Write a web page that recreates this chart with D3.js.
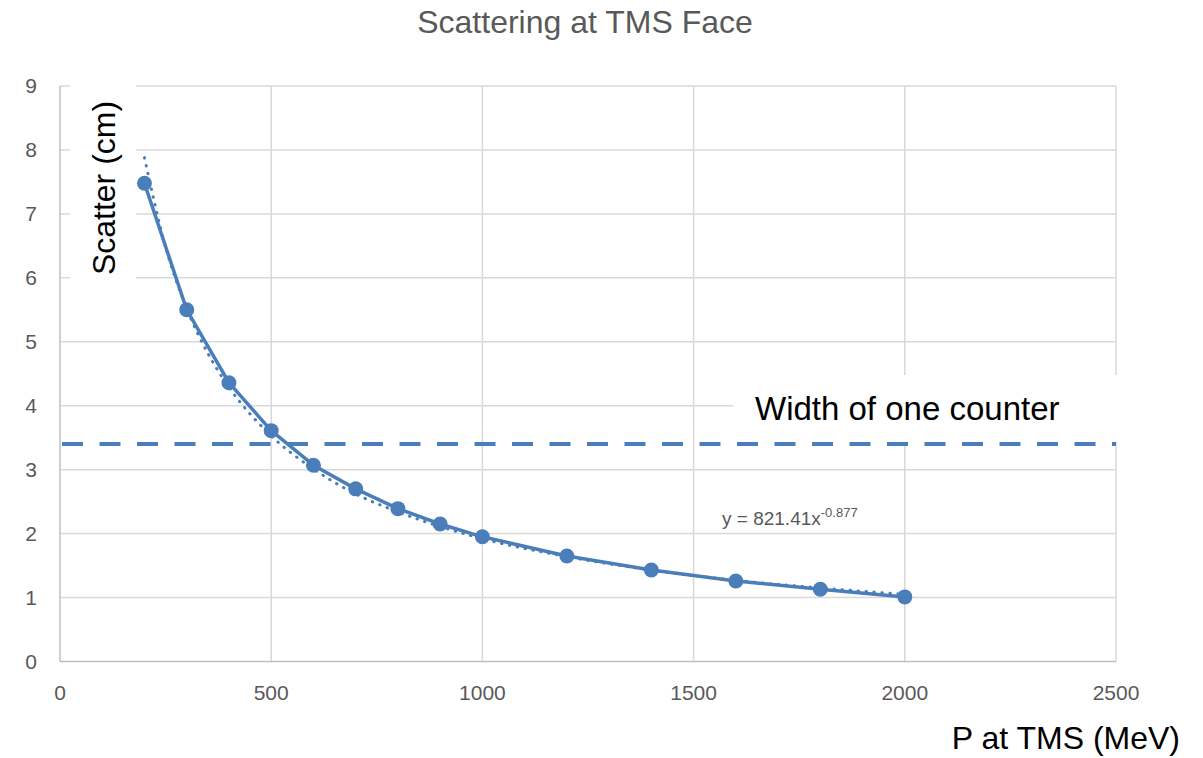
<!DOCTYPE html>
<html>
<head>
<meta charset="utf-8">
<script src="https://cdn.jsdelivr.net/npm/d3@7"></script>
<style>
  body { margin: 0; background: #fff; }
  text { font-family: "Liberation Sans", Arial, sans-serif; }
</style>
</head>
<body>
<svg id="chart" width="1203" height="758"></svg>
<script>
// measured scatter vs momentum
const momentum = [200, 300, 400, 500, 600, 700, 800, 900, 1000, 1200, 1400, 1600, 1800, 2000];
const scatter  = [7.48, 5.50, 4.36, 3.61, 3.07, 2.70, 2.39, 2.15, 1.95, 1.65, 1.43, 1.26, 1.13, 1.01];

// power trendline
const trendX = [200, 250, 300, 350, 400, 500, 600, 700, 800, 900, 1000, 1200, 1400, 1600, 1800, 2000];
const trendY = [7.88, 6.48, 5.52, 4.82, 4.29, 3.53, 3.01, 2.62, 2.34, 2.11, 1.92, 1.64, 1.43, 1.27, 1.15, 1.05];

const counterWidth = 3.4;
const xTicks = [0, 500, 1000, 1500, 2000, 2500];
const yTicks = [0, 1, 2, 3, 4, 5, 6, 7, 8, 9];

const svg = d3.select('#chart');
const margin = { top: 86, right: 87, bottom: 96.5, left: 60 };
const width = +svg.attr('width');
const height = +svg.attr('height');
const innerWidth = width - margin.left - margin.right;
const innerHeight = height - margin.top - margin.bottom;

const blue = '#4a7ebb';
const grid = '#d9d9d9';
const labelGrey = '#595959';

const xScale = d3.scaleLinear().domain([0, 2500]).range([margin.left, margin.left + innerWidth]);
const yScale = d3.scaleLinear().domain([0, 9]).range([margin.top + innerHeight, margin.top]);

//gridlines
svg.append('g')
  .selectAll('line').data(yTicks.slice(1)).enter().append('line')
    .attr('x1', margin.left).attr('x2', margin.left + innerWidth)
    .attr('y1', d => yScale(d)).attr('y2', d => yScale(d))
    .attr('stroke', grid).attr('stroke-width', 1.5);
svg.append('g')
  .selectAll('line').data(xTicks.slice(1)).enter().append('line')
    .attr('x1', d => xScale(d)).attr('x2', d => xScale(d))
    .attr('y1', margin.top).attr('y2', margin.top + innerHeight)
    .attr('stroke', grid).attr('stroke-width', 1.5);

//axis lines
svg.append('line')
  .attr('x1', margin.left).attr('x2', margin.left)
  .attr('y1', margin.top).attr('y2', margin.top + innerHeight)
  .attr('stroke', '#bfbfbf').attr('stroke-width', 1.5);
svg.append('line')
  .attr('x1', margin.left).attr('x2', margin.left + innerWidth)
  .attr('y1', margin.top + innerHeight).attr('y2', margin.top + innerHeight)
  .attr('stroke', '#bfbfbf').attr('stroke-width', 1.5);

//tick labels
svg.append('g')
  .selectAll('text').data(yTicks).enter().append('text')
    .attr('x', 37).attr('y', d => yScale(d))
    .attr('dy', '0.35em')
    .attr('text-anchor', 'end')
    .attr('font-size', 21)
    .attr('fill', labelGrey)
    .text(d => d);
svg.append('g')
  .selectAll('text').data(xTicks).enter().append('text')
    .attr('x', d => xScale(d)).attr('y', 700)
    .attr('text-anchor', 'middle')
    .attr('font-size', 21)
    .attr('fill', labelGrey)
    .text(d => d);

//white boxes behind the labels inside the plot
svg.append('rect').attr('x', 70).attr('y', 80).attr('width', 66).attr('height', 210).attr('fill', '#fff');
svg.append('rect').attr('x', 733).attr('y', 375).attr('width', 470).attr('height', 67).attr('fill', '#fff');

//y axis title
svg.append('text')
  .attr('transform', 'translate(115,188) rotate(-90)')
  .attr('text-anchor', 'middle')
  .attr('font-size', 32)
  .attr('fill', '#000')
  .text('Scatter (cm)');

//counter width line
svg.append('line')
  .attr('x1', margin.left + 2).attr('x2', margin.left + innerWidth)
  .attr('y1', yScale(counterWidth)).attr('y2', yScale(counterWidth))
  .attr('stroke', blue).attr('stroke-width', 4)
  .attr('stroke-dasharray', '21,16.5');

svg.append('text')
  .attr('x', 755).attr('y', 420)
  .attr('font-size', 33)
  .attr('fill', '#000')
  .text('Width of one counter');

//trendline (dotted)
const trendLine = d3.line()
  .x((d, i) => xScale(trendX[i]))
  .y(d => yScale(d))
  .curve(d3.curveMonotoneX);
svg.append('path')
  .attr('d', trendLine(trendY))
  .attr('fill', 'none')
  .attr('stroke', blue).attr('stroke-width', 3)
  .attr('stroke-linecap', 'round')
  .attr('stroke-dasharray', '0.5,7.5');

//data line + markers
const dataLine = d3.line()
  .x((d, i) => xScale(momentum[i]))
  .y(d => yScale(d));
svg.append('path')
  .attr('d', dataLine(scatter))
  .attr('fill', 'none')
  .attr('stroke', blue).attr('stroke-width', 3.5)
  .attr('stroke-linejoin', 'round');
svg.append('g')
  .selectAll('circle').data(scatter).enter().append('circle')
    .attr('cx', (d, i) => xScale(momentum[i]))
    .attr('cy', d => yScale(d))
    .attr('r', 7.5)
    .attr('fill', blue);

//trendline equation
const eq = svg.append('text')
  .attr('x', 722).attr('y', 525)
  .attr('font-size', 19)
  .attr('fill', labelGrey);
eq.append('tspan').text('y = 821.41x');
eq.append('tspan').attr('dy', -8).attr('font-size', 13).text('-0.877');

//title + x axis title
svg.append('text')
  .attr('x', 585).attr('y', 33)
  .attr('text-anchor', 'middle')
  .attr('font-size', 32)
  .attr('fill', labelGrey)
  .text('Scattering at TMS Face');

svg.append('text')
  .attr('x', 1180).attr('y', 749)
  .attr('text-anchor', 'end')
  .attr('font-size', 32)
  .attr('fill', '#000')
  .text('P at TMS (MeV)');
</script>
</body>
</html>
